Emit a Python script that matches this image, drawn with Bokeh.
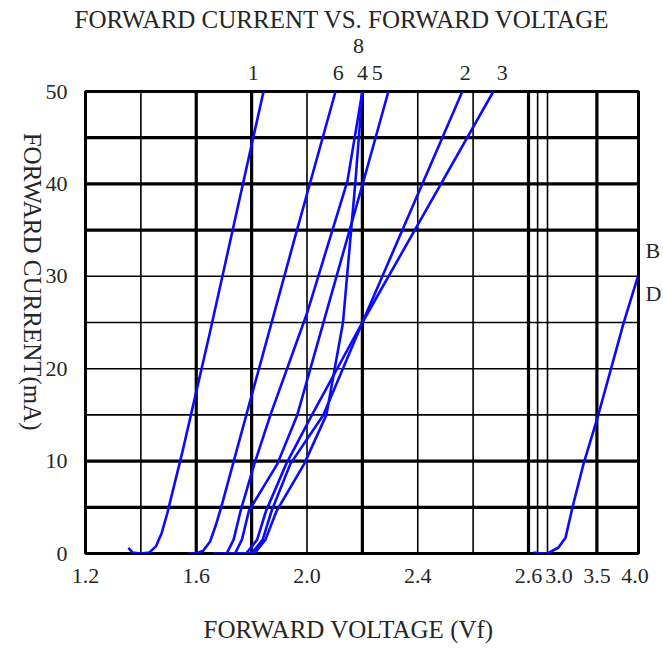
import math
from bokeh.plotting import figure
from bokeh.models import (Range1d, Span, LinearAxis, FixedTicker, Title)
from bokeh.embed import file_html
from bokeh.resources import INLINE

# ---------------- data ----------------
curve_names = ["1", "6", "4", "8", "5", "2", "3"]

v_1 = [1.355, 1.37, 1.40, 1.43, 1.455, 1.475, 1.495, 1.55, 1.65, 1.75, 1.843]
i_1 = [0.6, 0.1, 0.0, 0.1, 0.8, 2.2, 4.3, 11.0, 24.0, 37.5, 50.0]

v_6 = [1.57, 1.60, 1.625, 1.65, 1.67, 1.69, 1.79, 1.95, 2.103]
i_6 = [0.0, 0.0, 0.3, 1.3, 3.0, 5.0, 16.0, 33.5, 50.0]

v_4 = [1.66, 1.71, 1.735, 1.76, 1.81, 1.868, 2.00, 2.146, 2.20]
i_4 = [0.0, 0.0, 1.5, 4.6, 9.7, 15.0, 26.0, 40.3, 50.0]

v_8 = [1.76, 1.81, 1.85, 1.89, 1.99, 2.07, 2.13, 2.175, 2.20]
i_8 = [0.0, 0.0, 1.5, 4.6, 9.7, 15.0, 25.0, 40.3, 50.0]

v_5 = [1.70, 1.74, 1.765, 1.79, 1.893, 1.965, 2.204, 2.294]
i_5 = [0.0, 0.0, 1.5, 4.6, 9.7, 15.0, 40.3, 50.0]

v_2 = [1.74, 1.80, 1.84, 1.872, 1.94, 2.059, 2.20, 2.561]
i_2 = [0.0, 0.0, 1.5, 4.6, 9.7, 15.0, 25.0, 50.0]

v_3 = [1.72, 1.78, 1.82, 1.852, 1.925, 2.018, 2.20, 2.673]
i_3 = [0.0, 0.0, 1.5, 4.6, 9.7, 15.0, 25.0, 50.0]

# right-hand (broken axis) panel: curves B and D
v_bd = [2.666, 2.75, 2.85, 2.995, 3.087, 3.179, 3.324, 3.508, 3.679, 3.85, 4.04]
i_bd = [0.1, 0.0, 0.0, 0.65, 1.7, 5.0, 9.7, 14.7, 19.8, 24.9, 30.0]
bd_names = ["B", "D"]

x_ticks_low = [1.2, 1.6, 2.0, 2.4]
x_ticks_high = [2.6, 3.0, 3.5, 4.0]
y_ticks = [0, 10, 20, 30, 40, 50]

# grid lines
x_grid_thick = [1.6, 1.8, 2.2, 2.8]
x_grid_thin = [1.4, 2.0, 2.4, 2.6]
hv_grid_thick = [3.5]
hv_grid_thin = [2.72, 2.85]
y_grid_thick = [5, 10, 35, 40, 45]
y_grid_thin = [15, 20, 25, 30]

curves = [(v_1, i_1), (v_6, i_6), (v_4, i_4), (v_8, i_8), (v_5, i_5), (v_2, i_2), (v_3, i_3)]

# label anchors (positions, not data)
top_row_names = ["1", "6", "4", "5", "2", "3"]
top_row_x = [1.806, 2.113, 2.200, 2.254, 2.572, 2.705]
top_row2_names = ["8"]
top_row2_x = [2.186]
bd_label_y = [32.8, 28.1]
y_title = "FORWARD CURRENT(mA)"
y_title_anchor = 13.3

# ---------------- layout ----------------
FONT = "Liberation Serif"
TXT = "#262626"
BLUE = "#0a0aff"

frame_w, frame_h = 553, 462
low_w = 443                       # pixels of the 1.2 .. 2.8 V part
low_start, low_end_break = 1.2, 2.8
px_per_v_low = low_w / (low_end_break - low_start)
hv_break, px_per_v_hv = 2.6, 76.0

x_end = low_start + frame_w / px_per_v_low
hv_start = hv_break - low_w / px_per_v_hv
hv_end = hv_break + (frame_w - low_w) / px_per_v_hv


def hv_on_main(t):
    """position of a high-voltage-panel value on the main x scale"""
    return round(low_start + (low_w + (t - hv_break) * px_per_v_hv) / px_per_v_low, 6)


p = figure(frame_width=frame_w, frame_height=frame_h,
           x_range=Range1d(low_start, x_end), y_range=Range1d(0, 50),
           min_border_left=85, min_border_right=25, min_border_top=91, min_border_bottom=96,
           output_backend="svg", toolbar_location=None, tools="")
p.extra_x_ranges = {"hv": Range1d(hv_start, hv_end)}
p.background_fill_color = "white"
p.border_fill_color = "white"
p.outline_line_color = "black"
p.outline_line_width = 3
p.xgrid.visible = False
p.ygrid.visible = False


def style_axis(ax, standoff, size="22px"):
    ax.axis_line_color = None
    ax.major_tick_line_color = None
    ax.minor_tick_line_color = None
    ax.major_tick_out = 0
    ax.major_tick_in = 0
    ax.major_label_text_font = FONT
    ax.major_label_text_font_size = size
    ax.major_label_text_color = TXT
    ax.major_label_standoff = standoff


# bottom axis: both voltage scales on one row
xt_pos = [round(t, 6) for t in x_ticks_low] + [hv_on_main(t) for t in x_ticks_high]
xt_txt = [f"{t:.1f}" for t in x_ticks_low] + [f"{t:.1f}" for t in x_ticks_high]
xax = p.xaxis[0]
xax.ticker = FixedTicker(ticks=xt_pos)
xax.major_label_overrides = dict(zip(xt_pos, xt_txt))
style_axis(xax, 15)

yax = p.yaxis[0]
yax.ticker = FixedTicker(ticks=y_ticks)
style_axis(yax, 18)

# y title, written top-to-bottom like the original
ytit = LinearAxis(ticker=FixedTicker(ticks=[y_title_anchor]),
                  major_label_overrides={y_title_anchor: y_title},
                  major_label_orientation=-math.pi / 2)
style_axis(ytit, 10, "25px")
p.add_layout(ytit, "left")

# curve names above the plot (two rows)
top1 = LinearAxis(ticker=FixedTicker(ticks=top_row_x),
                  major_label_overrides=dict(zip(top_row_x, top_row_names)))
style_axis(top1, 12)
p.add_layout(top1, "above")
top2 = LinearAxis(ticker=FixedTicker(ticks=top_row2_x),
                  major_label_overrides=dict(zip(top_row2_x, top_row2_names)))
style_axis(top2, 10)
p.add_layout(top2, "above")

# curve names at the right
rax = LinearAxis(ticker=FixedTicker(ticks=bd_label_y),
                 major_label_overrides=dict(zip(bd_label_y, bd_names)))
style_axis(rax, 7)
p.add_layout(rax, "right")

# titles
p.title.text = "FORWARD CURRENT VS. FORWARD VOLTAGE"
p.title.align = "left"
p.title.offset = -11
p.title.standoff = 6
p.title.text_font = FONT
p.title.text_font_size = "25px"
p.title.text_font_style = "normal"
p.title.text_color = TXT

p.add_layout(Title(text="FORWARD VOLTAGE (Vf)", align="left", offset=118, standoff=56,
                   text_font=FONT, text_font_size="25px", text_font_style="normal",
                   text_color=TXT), "below")

# grid
for loc in x_grid_thin:
    p.add_layout(Span(location=loc, dimension="height", line_color="black", line_width=1.6, level="underlay"))
for loc in x_grid_thick:
    p.add_layout(Span(location=loc, dimension="height", line_color="black", line_width=3.2, level="underlay"))
for loc in hv_grid_thin:
    p.add_layout(Span(location=loc, dimension="height", line_color="black", line_width=1.6,
                      level="underlay", x_range_name="hv"))
for loc in hv_grid_thick:
    p.add_layout(Span(location=loc, dimension="height", line_color="black", line_width=3.2,
                      level="underlay", x_range_name="hv"))
for loc in y_grid_thin:
    p.add_layout(Span(location=loc, dimension="width", line_color="black", line_width=1.6, level="underlay"))
for loc in y_grid_thick:
    p.add_layout(Span(location=loc, dimension="width", line_color="black", line_width=3.2, level="underlay"))

# curves
for (vv, ii) in curves:
    p.line(vv, ii, line_color=BLUE, line_width=2.6)
p.line(v_bd, i_bd, line_color=BLUE, line_width=2.6, x_range_name="hv")

open("out.html", "w").write(file_html(p, INLINE))
